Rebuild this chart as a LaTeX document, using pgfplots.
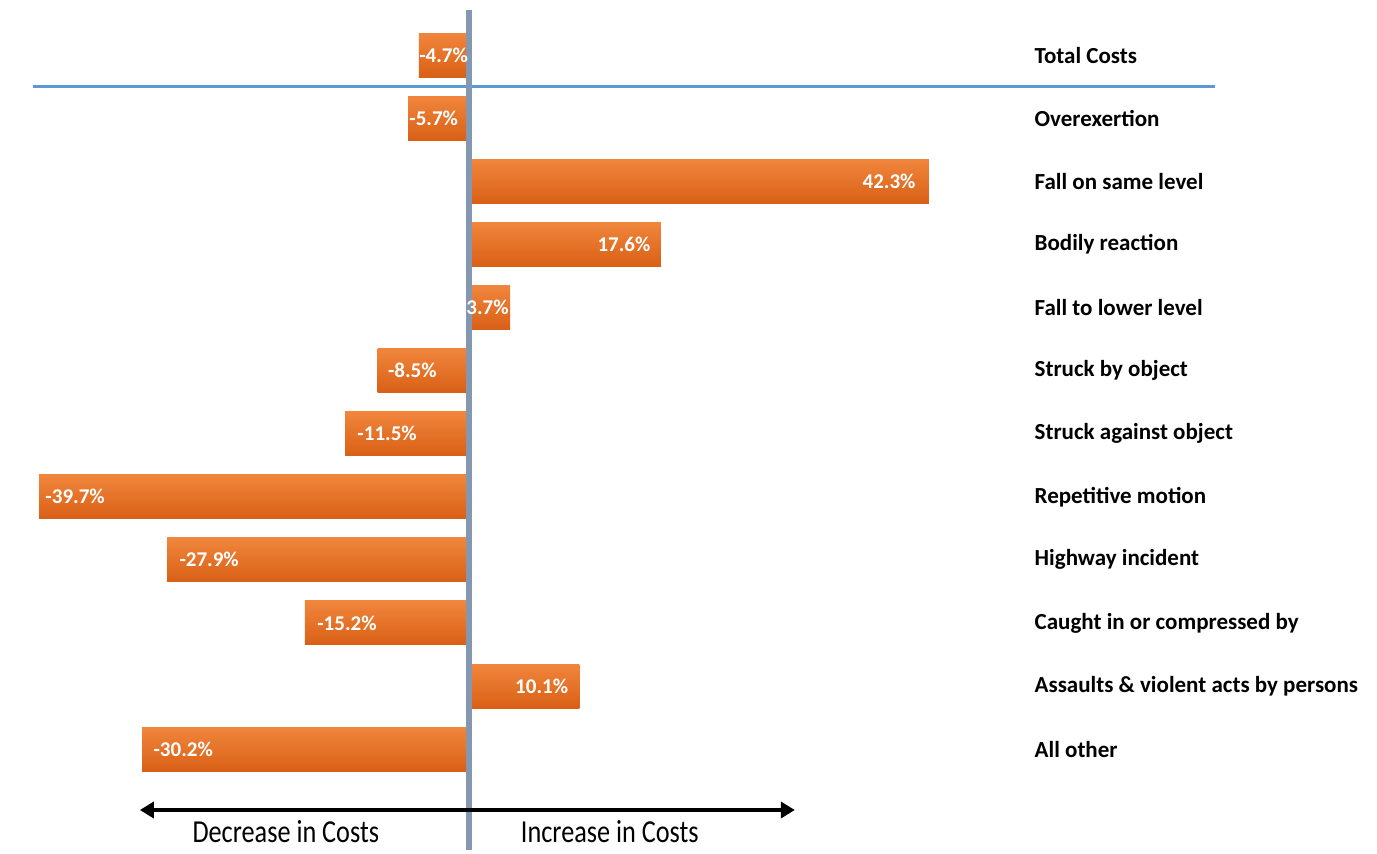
\documentclass[border=0pt]{standalone}
\usepackage{pgfplots}
\pgfplotsset{compat=1.18}
\usepackage{fontspec}
\setmainfont{Carlito}
\newfontfamily\narrowfont[FakeStretch=0.82]{Carlito}
\usetikzlibrary{arrows.meta}

\definecolor{bartop}{RGB}{240,134,60}
\definecolor{barbot}{RGB}{217,96,22}
\definecolor{zeroline}{RGB}{132,151,176}
\definecolor{sepline}{RGB}{91,155,213}

% one plot per bar, so every bar gets its own top-to-bottom shading
% #1 = pad of the label (pt)
\pgfplotsset{
  posbar/.style={draw=none, top color=bartop, bottom color=barbot,
    every node near coord/.append style={anchor=east, xshift=#1pt}},
  negbar/.style={draw=none, top color=bartop, bottom color=barbot,
    every node near coord/.append style={anchor=west, xshift=#1pt}},
}

\begin{document}
\begin{tikzpicture}
\begin{axis}[
    width=688.5pt, height=425pt,
    scale only axis,
    hide axis,
    clip=false,
    xmin=-43.3, xmax=83.6,
    ymin=-0.872, ymax=12.599,
    y dir=reverse,
    xbar, bar width=22pt, bar shift=0pt,
    nodes near coords={\pgfmathprintnumber[fixed, precision=1, fixed zerofill, assume math mode=true]{\pgfplotspointmeta}\%},
    every node near coord/.append style={font=\bfseries\fontsize{10.5}{12}\selectfont, text=white, inner sep=0pt},
  ]
  \path (rel axis cs:0,0) rectangle (rel axis cs:1,1);

  \addplot[negbar=0]    coordinates {(-4.7,0)};   % Total Costs
  \addplot[negbar=0.5]  coordinates {(-5.7,1)};   % Overexertion
  \addplot[posbar=-6.5] coordinates {(42.3,2)};   % Fall on same level
  \addplot[posbar=-5]   coordinates {(17.6,3)};   % Bodily reaction
  \addplot[posbar=-0.5] coordinates {(3.7,4)};    % Fall to lower level
  \addplot[negbar=5]    coordinates {(-8.5,5)};   % Struck by object
  \addplot[negbar=6]    coordinates {(-11.5,6)};  % Struck against object
  \addplot[negbar=3]    coordinates {(-39.7,7)};  % Repetitive motion
  \addplot[negbar=6]    coordinates {(-27.9,8)};  % Highway incident
  \addplot[negbar=6]    coordinates {(-15.2,9)};  % Caught in or compressed by
  \addplot[posbar=-5.5] coordinates {(10.1,10)};  % Assaults
  \addplot[negbar=5.5]  coordinates {(-30.2,11)}; % All other

  % separator under the total
  \draw[sepline, line width=1.5pt] (axis cs:-40.28,0.491) -- (axis cs:68.66,0.491);
  % zero line
  \draw[zeroline, line width=3pt] (axis cs:-0.09,-0.713) -- (axis cs:-0.09,12.599);

  % category names
  \tikzset{cat/.style={anchor=west, font=\bfseries\fontsize{11.5}{13}\selectfont}}
  \node[cat] at (axis cs:51.4,0) {Total Costs};
  \node[cat] at (axis cs:51.4,1) {Overexertion};
  \node[cat] at (axis cs:51.4,2) {Fall on same level};
  \node[cat] at (axis cs:51.4,3) {Bodily reaction};
  \node[cat] at (axis cs:51.4,4) {Fall to lower level};
  \node[cat] at (axis cs:51.4,5) {Struck by object};
  \node[cat] at (axis cs:51.4,6) {Struck against object};
  \node[cat] at (axis cs:51.4,7) {Repetitive motion};
  \node[cat] at (axis cs:51.4,8) {Highway incident};
  \node[cat] at (axis cs:51.4,9) {Caught in or compressed by};
  \node[cat] at (axis cs:51.4,10) {Assaults \& violent acts by persons};
  \node[cat] at (axis cs:51.4,11) {All other};

  % direction arrow
  \draw[line width=2pt, {Triangle[length=7pt, width=8pt]}-{Triangle[length=7pt, width=8pt]}]
    (axis cs:-30.41,11.965) -- (axis cs:29.95,11.965);
  \node[font=\narrowfont\fontsize{16}{18}\selectfont] at (axis cs:-16.96,12.31) {Decrease in Costs};
  \node[font=\narrowfont\fontsize{16}{18}\selectfont] at (axis cs:12.9,12.31) {Increase in Costs};
\end{axis}
\end{tikzpicture}
\end{document}
